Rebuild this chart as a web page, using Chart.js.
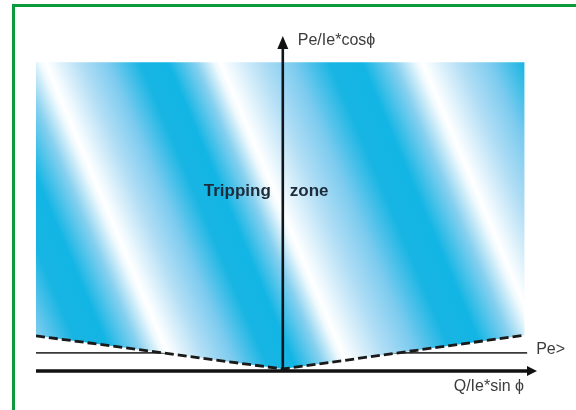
<!DOCTYPE html>
<html>
<head>
<meta charset="utf-8">
<script src="https://cdn.jsdelivr.net/npm/chart.js@4/dist/chart.umd.min.js"></script>
<style>
  html, body { margin: 0; padding: 0; background: #fff; }
  #wrap { position: relative; width: 576px; height: 410px; overflow: hidden; }
  #frame { position: absolute; left: 12px; top: 4px; right: 0; bottom: 0;
           border-top: 3px solid #0b9a3c; border-left: 3px solid #0b9a3c; }
  canvas { position: absolute; left: 0; top: 0; }
</style>
</head>
<body>
<div id="wrap">
  <div id="frame"></div>
  <canvas id="chart" width="576" height="410"></canvas>
</div>
<script>
// axis ranges (Q/Ie*sin phi horizontally, Pe/Ie*cos phi vertically)
const qMin = -1, qMax = 1.03;
const pMin = 0, pMax = 10;

// tripping zone: upper edge and dashed lower boundary
const boundaryQ = [-1, 0, 0.98];
const boundaryP = [1.05, 0.06, 1.07];
const zoneTopP = [9.22, 9.22, 9.22];

// Pe> threshold line
const peQ = [-1, 0.99];
const peLevel = [0.54, 0.54];

const labels = {
  yAxis: "Pe/Ie*cosϕ",
  xAxis: "Q/Ie*sin ϕ",
  threshold: "Pe>",
  zoneLeft: "Tripping",
  zoneRight: "zone"
};

const pts = (xs, ys) => xs.map((x, i) => ({ x: x, y: ys[i] }));

// diagonal stripes of the shaded zone
function stripeFill(context) {
  const chart = context.chart;
  if (!chart.chartArea) return '#12b6e4';
  const sx = chart.scales.x, sy = chart.scales.y;
  const left = sx.getPixelForValue(qMin);
  const top = sy.getPixelForValue(zoneTopP[0]);
  const slope = 0.42;
  const c0 = -200, c1 = 600, span = c1 - c0;
  const k = span / (1 + slope * slope);
  const x0 = left + c0, y0 = top;
  const g = chart.ctx.createLinearGradient(x0, y0, x0 + k, y0 - k * slope);
  const whites = [-181, 9, 184, 386, 575];
  const stops = [];
  for (let i = 0; i < whites.length - 1; i++) {
    const w = whites[i], n = whites[i + 1], d = n - w;
    stops.push([w, '#ffffff']);
    stops.push([w + 6, '#f4fbfe']);
    stops.push([w + 0.2 * d, '#b2def5']);
    stops.push([w + 0.36 * d, '#7ccbef']);
    stops.push([w + 0.54 * d, '#18b5e3']);
    stops.push([w + 0.7 * d, '#12b5e4']);
    stops.push([w + 0.86 * d, '#86d0ef']);
    stops.push([n - 6, '#eef9fd']);
  }
  stops.forEach(s => {
    const t = (s[0] - c0) / span;
    if (t >= 0 && t <= 1) g.addColorStop(t, s[1]);
  });
  return g;
}

const overlay = {
  id: 'overlay',
  afterDatasetsDraw(chart) {
    const ctx = chart.ctx;
    const sx = chart.scales.x, sy = chart.scales.y;
    const ox = sx.getPixelForValue(0), oy = sy.getPixelForValue(0);
    const xl = sx.getPixelForValue(qMin), xr = sx.getPixelForValue(qMax);
    const yt = sy.getPixelForValue(pMax);
    ctx.save();
    ctx.strokeStyle = '#111';
    ctx.fillStyle = '#111';
    // horizontal axis
    ctx.lineWidth = 3.5;
    ctx.beginPath();
    ctx.moveTo(xl, oy);
    ctx.lineTo(xr - 8, oy);
    ctx.stroke();
    ctx.beginPath();
    ctx.moveTo(xr, oy);
    ctx.lineTo(xr - 10, oy - 5);
    ctx.lineTo(xr - 10, oy + 5);
    ctx.closePath();
    ctx.fill();
    // vertical axis
    ctx.strokeStyle = '#10161e';
    ctx.lineWidth = 2.6;
    ctx.beginPath();
    ctx.moveTo(ox, oy);
    ctx.lineTo(ox, yt + 10);
    ctx.stroke();
    ctx.beginPath();
    ctx.moveTo(ox, yt);
    ctx.lineTo(ox - 5.5, yt + 13);
    ctx.lineTo(ox + 5.5, yt + 13);
    ctx.closePath();
    ctx.fill();

    // texts
    ctx.fillStyle = '#3c3c3c';
    ctx.font = '16px "Liberation Sans", Arial, sans-serif';
    ctx.textBaseline = 'middle';
    ctx.textAlign = 'left';
    ctx.fillText(labels.yAxis, ox + 15, yt + 5);
    ctx.fillText(labels.threshold, sx.getPixelForValue(peQ[1]) + 9, sy.getPixelForValue(peLevel[0]) - 3);
    ctx.textAlign = 'right';
    ctx.fillText(labels.xAxis, xr - 13, oy + 16);

    ctx.fillStyle = '#1d2b3a';
    ctx.font = 'bold 17px "Liberation Sans", Arial, sans-serif';
    ctx.fillText(labels.zoneLeft, ox - 12, 191);
    ctx.textAlign = 'left';
    ctx.fillText(labels.zoneRight, ox + 7, 191);
    ctx.restore();
  }
};

new Chart(document.getElementById('chart').getContext('2d'), {
  type: 'line',
  data: {
    datasets: [
      {
        label: 'zone top',
        data: pts(boundaryQ, zoneTopP),
        borderWidth: 0,
        borderColor: 'rgba(0,0,0,0)',
        pointRadius: 0,
        fill: false
      },
      {
        label: 'tripping boundary',
        data: pts(boundaryQ, boundaryP),
        borderColor: '#1a1a1a',
        borderWidth: 2.8,
        borderDash: [9, 4],
        pointRadius: 0,
        tension: 0,
        fill: { target: 0 },
        backgroundColor: stripeFill
      },
      {
        label: 'Pe>',
        data: pts(peQ, peLevel),
        borderColor: '#3a3a3a',
        borderWidth: 1.6,
        pointRadius: 0,
        fill: false
      }
    ]
  },
  options: {
    responsive: false,
    animation: false,
    layout: { padding: { left: 36, right: 39, top: 36, bottom: 39 } },
    scales: {
      x: { type: 'linear', min: qMin, max: qMax, display: false },
      y: { type: 'linear', min: pMin, max: pMax, display: false }
    },
    plugins: {
      legend: { display: false },
      tooltip: { enabled: false }
    }
  },
  plugins: [overlay]
});
</script>
</body>
</html>
